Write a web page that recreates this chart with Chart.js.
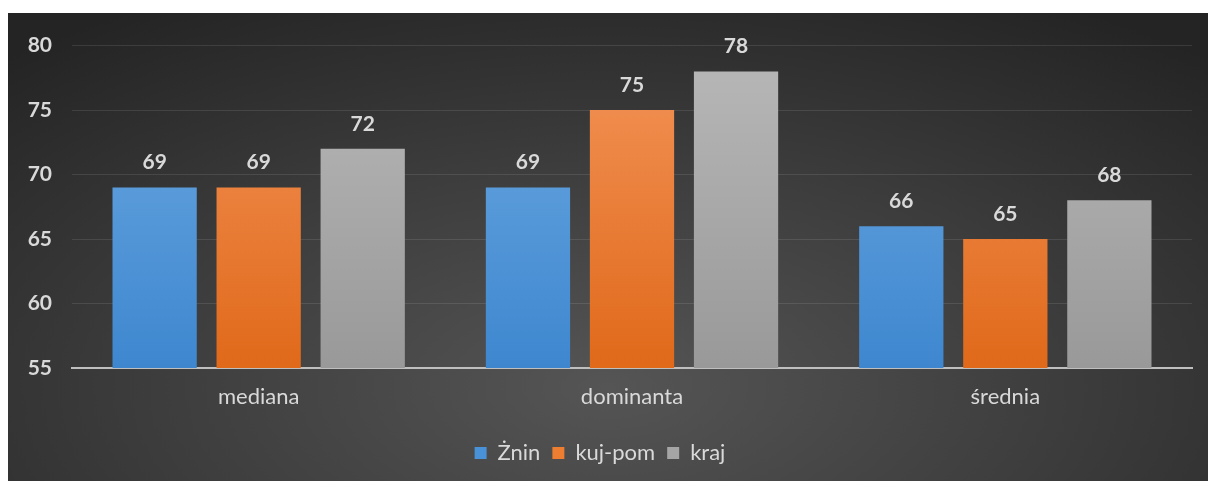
<!DOCTYPE html>
<html>
<head>
<meta charset="utf-8">
<script src="https://cdn.jsdelivr.net/npm/chart.js@4/dist/chart.umd.min.js"></script>
<style>
  html, body { margin: 0; padding: 0; background: #fff; }
  #wrap {
    position: absolute; left: 8px; top: 13px; width: 1200px; height: 468px;
    background: radial-gradient(ellipse 75% 95% at 50% 80%, #555555 0%, #3d3d3d 50%, #242424 100%);
  }
</style>
</head>
<body>
<div id="wrap"><canvas id="chart"></canvas></div>
<script>
// data
const categories = ['mediana', 'dominanta', 'średnia'];
const znin = [69, 69, 66];
const kujPom = [69, 75, 65];
const kraj = [72, 78, 68];
const seriesNames = ['Żnin', 'kuj-pom', 'kraj'];
const yTicks = [55, 60, 65, 70, 75, 80];

const textColor = '#d9d9d9';
const fontFamily = 'Lato, "Open Sans", sans-serif';

function grad(top, bottom) {
    return function (context) {
        const area = context.chart.chartArea;
        if (!area) return bottom;
        const g = context.chart.ctx.createLinearGradient(0, area.top, 0, area.bottom);
        g.addColorStop(0, top);
        g.addColorStop(1, bottom);
        return g;
    };
}

// value labels above the bars
const valueLabels = {
    id: 'valueLabels',
    afterDatasetsDraw(chart) {
        const ctx = chart.ctx;
        ctx.save();
        ctx.font = 'bold 21px ' + fontFamily;
        ctx.fillStyle = textColor;
        ctx.textAlign = 'center';
        ctx.textBaseline = 'alphabetic';
        chart.data.datasets.forEach(function (ds, i) {
            chart.getDatasetMeta(i).data.forEach(function (bar, j) {
                ctx.fillText(ds.data[j], bar.x, bar.y - 18);
            });
        });
        ctx.restore();
    }
};

document.addEventListener('DOMContentLoaded', function () {
    const ctx = document.getElementById('chart').getContext('2d');
    new Chart(ctx, {
        type: 'bar',
        data: {
            labels: categories,
            datasets: [
                { label: seriesNames[0], data: znin, backgroundColor: grad('#6eaae2', '#3e87cf'), legendColor: '#4a92d8' },
                { label: seriesNames[1], data: kujPom, backgroundColor: grad('#f39459', '#e0691a'), legendColor: '#ed7d31' },
                { label: seriesNames[2], data: kraj, backgroundColor: grad('#b8b8b8', '#999999'), legendColor: '#a5a5a5' }
            ]
        },
        options: {
            responsive: true,
            maintainAspectRatio: false,
            animation: false,
            layout: { padding: { left: 0, right: 16, top: 20, bottom: 7 } },
            datasets: { bar: { categoryPercentage: 0.836, barPercentage: 0.81 } },
            plugins: {
                tooltip: { enabled: false },
                legend: {
                    position: 'bottom',
                    labels: {
                        color: textColor,
                        font: { family: fontFamily, size: 22 },
                        boxWidth: 12,
                        boxHeight: 12,
                        padding: 12,
                        generateLabels(chart) {
                            return chart.data.datasets.map(function (ds, i) {
                                return {
                                    text: ds.label,
                                    fillStyle: ds.legendColor,
                                    strokeStyle: ds.legendColor,
                                    lineWidth: 0,
                                    fontColor: textColor,
                                    datasetIndex: i
                                };
                            });
                        }
                    }
                }
            },
            scales: {
                x: {
                    grid: { display: false },
                    border: { color: '#bfbfbf', width: 2 },
                    ticks: {
                        color: textColor,
                        font: { family: fontFamily, size: 22 },
                        padding: 8
                    },
                    afterFit(scale) { scale.height = 62; }
                },
                y: {
                    min: yTicks[0],
                    max: yTicks[yTicks.length - 1],
                    afterBuildTicks(scale) {
                        scale.ticks = yTicks.map(function (v) { return { value: v }; });
                    },
                    border: { display: false },
                    grid: {
                        color: function (c) {
                            return c.tick && c.tick.value === yTicks[0] ? 'rgba(0,0,0,0)' : 'rgba(255,255,255,0.1)';
                        },
                        drawTicks: false
                    },
                    ticks: {
                        color: textColor,
                        font: { family: fontFamily, size: 21, weight: 'bold' },
                        padding: 20
                    },
                    afterFit(scale) { scale.width = 64; }
                }
            }
        },
        plugins: [valueLabels]
    });
});
</script>
</body>
</html>
